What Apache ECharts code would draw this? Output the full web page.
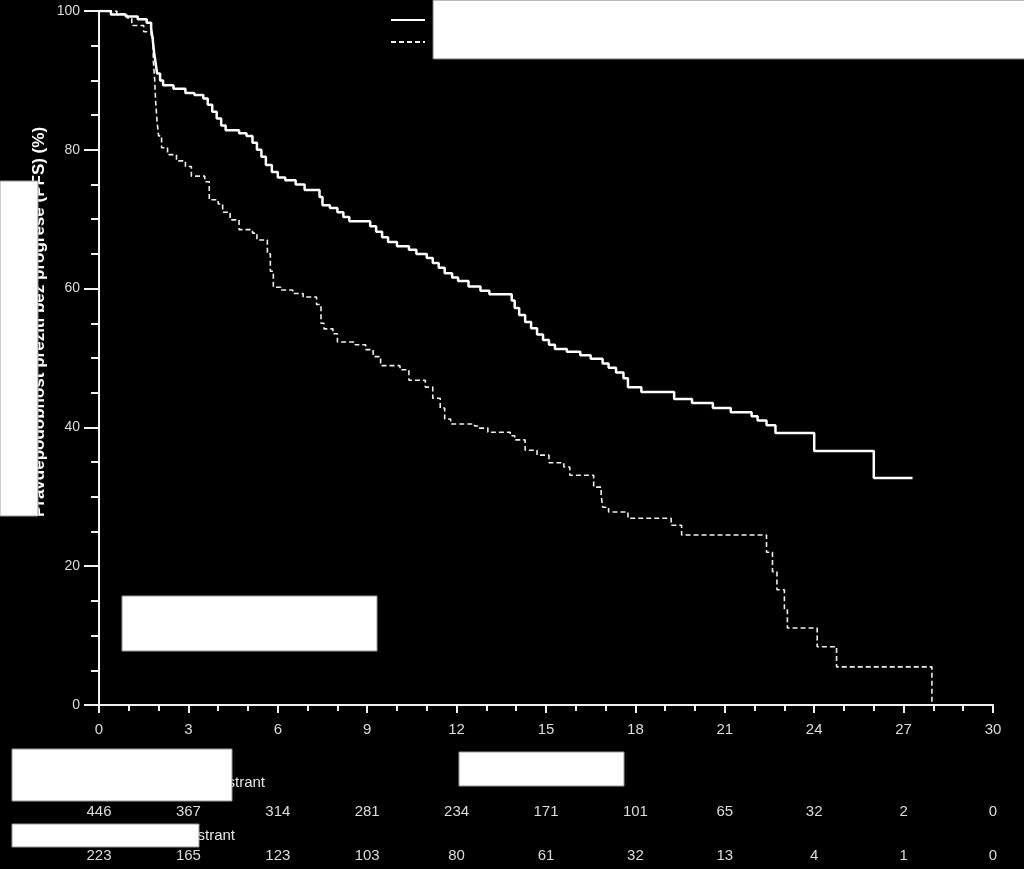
<!DOCTYPE html>
<html>
<head>
<meta charset="utf-8">
<script src="https://cdn.jsdelivr.net/npm/echarts@6/dist/echarts.min.js"></script>
<style>html,body{margin:0;padding:0;background:#000;}#c{width:1024px;height:869px;}</style>
</head>
<body>
<div id="c"></div>
<script>
// Series names (legend text is redacted in the reference)
const seriesNames = ['Abemaciklib + fulvestrant', 'Placebo + fulvestrant'];

// Arm A (solid): time in months, PFS %
const timesA = [0,0.4,0.9,1.3,1.6,1.75,1.8,1.85,1.9,1.95,2.05,2.15,2.5,2.9,3.2,3.5,3.65,3.8,3.95,4.1,4.25,4.7,4.95,5.15,5.3,5.45,5.6,5.8,6.0,6.25,6.6,6.9,7.4,7.5,7.75,8.0,8.2,8.4,9.1,9.3,9.5,9.7,10.0,10.4,10.65,11.0,11.2,11.4,11.6,11.85,12.05,12.4,12.8,13.1,13.85,13.95,14.1,14.3,14.5,14.7,14.9,15.1,15.3,15.7,16.15,16.5,16.9,17.1,17.35,17.6,17.75,18.2,19.3,19.9,20.6,21.2,21.9,22.1,22.4,22.7,24.0,26.0,27.3];
const pfsA   = [100,99.5,99.2,98.8,98.3,97.5,96,94,92.5,91,90,89.3,88.8,88.2,87.9,87.4,86.5,85.5,84.5,83.5,82.8,82.4,82.0,81.0,80.0,79.0,77.8,76.8,76.0,75.6,75.0,74.2,73.2,72.0,71.6,71.0,70.3,69.7,69.0,68.2,67.4,66.7,66.1,65.6,65.0,64.4,63.7,63.0,62.2,61.6,61.1,60.3,59.7,59.2,58.3,57.2,56.2,55.2,54.3,53.4,52.6,51.9,51.3,50.9,50.4,49.9,49.2,48.6,47.9,47.1,45.8,45.1,44.1,43.5,42.8,42.2,41.6,41.0,40.3,39.2,36.6,32.7,32.7];

// Arm B (dashed)
const timesB = [0,0.6,0.95,1.1,1.5,1.75,1.82,1.87,1.9,1.95,2.0,2.1,2.3,2.6,2.9,3.1,3.55,3.7,4.0,4.15,4.4,4.7,5.15,5.3,5.65,5.75,5.85,6.1,6.5,6.85,7.3,7.45,7.55,7.85,8.0,8.6,8.95,9.2,9.45,10.1,10.4,10.95,11.2,11.45,11.6,11.8,12.6,12.75,13.05,13.8,13.95,14.3,14.7,15.1,15.6,15.8,16.6,16.85,16.9,17.1,17.75,19.2,19.55,22.4,22.6,22.75,23.0,23.1,24.1,24.75,27.95];
const pfsB   = [100,99.6,99.0,97.9,97.0,96.3,93,90,87,84,82,80.3,79.3,78.4,77.6,76.2,75.4,72.8,72.2,71.0,69.9,68.5,68.0,67.0,65.0,62.5,60.2,59.8,59.3,58.8,57.7,55.0,54.2,53.5,52.3,51.9,51.2,50.2,48.9,48.3,46.8,45.8,44.2,42.8,41.2,40.5,40.2,39.9,39.3,38.8,38.2,36.7,36.0,34.9,34.3,33.1,31.4,30.3,28.5,27.8,26.9,25.9,24.5,22.0,19.2,16.6,13.7,11.1,8.4,5.5,0];

// Numbers at risk at months 0,3,...,30
const riskA = [446,367,314,281,234,171,101,65,32,2,0];
const riskB = [223,165,123,103,80,61,32,13,4,1,0];

const yTitle = 'Pravděpodobnost přežití bez progrese (PFS) (%)';
const xTitle = 'Čas (měsíce)';

const FONT = '"Liberation Sans", Arial, sans-serif';
const LBL = '#dcdcdc';

const chart = echarts.init(document.getElementById('c'), null, {renderer: 'canvas'});

function riskAxis(arr, offset) {
  return {
    type: 'value', min: 0, max: 30, interval: 3, position: 'bottom', offset: offset,
    axisLine: {show: false}, axisTick: {show: false}, splitLine: {show: false},
    axisLabel: {color: LBL, fontSize: 15, fontFamily: FONT, margin: 0,
      formatter: v => { const i = Math.round(v / 3); return arr[i] !== undefined ? String(arr[i]) : ''; }}
  };
}

const option = {
  backgroundColor: '#000',
  animation: false,
  grid: {left: 99, right: 31, top: 11, bottom: 164, containLabel: false},
  legend: {
    orient: 'vertical', left: 385, top: 8, itemWidth: 34, itemHeight: 14, itemGap: 8,
    data: seriesNames,
    itemStyle: {opacity: 0},
    textStyle: {color: '#000', fontSize: 14, padding: [0,0,0,20]}
  },
  xAxis: [{
    type: 'value', min: 0, max: 30, interval: 3,
    axisLine: {show: true, lineStyle: {color: '#f2f2f2', width: 2}},
    axisTick: {show: true, length: 8, lineStyle: {color: '#f2f2f2', width: 2}},
    minorTick: {show: true, splitNumber: 3, length: 6, lineStyle: {color: '#f2f2f2', width: 2}},
    splitLine: {show: false}, minorSplitLine: {show: false},
    axisLabel: {color: LBL, fontSize: 15, fontFamily: FONT, margin: 17},
    name: xTitle, nameLocation: 'middle', nameGap: 49,
    nameTextStyle: {color: '#fff', fontSize: 17, fontWeight: 'bold', fontFamily: FONT}
  }, riskAxis(riskA, 99), riskAxis(riskB, 143)],
  yAxis: {
    type: 'value', min: 0, max: 100, interval: 20,
    axisLine: {show: true, lineStyle: {color: '#f2f2f2', width: 2}},
    axisTick: {show: true, length: 15, lineStyle: {color: '#f2f2f2', width: 2}},
    minorTick: {show: true, splitNumber: 4, length: 8, lineStyle: {color: '#f2f2f2', width: 2}},
    splitLine: {show: false}, minorSplitLine: {show: false},
    axisLabel: {color: LBL, fontSize: 14, fontFamily: FONT, margin: 19}
  },
  series: [{
    name: seriesNames[0], type: 'line', step: 'end', showSymbol: false, symbol: 'none',
    data: timesA.map((t, i) => [t, pfsA[i]]),
    lineStyle: {color: '#ffffff', width: 2.5}, itemStyle: {color: '#ffffff'}, z: 3
  }, {
    name: seriesNames[1], type: 'line', step: 'end', showSymbol: false, symbol: 'none',
    data: timesB.map((t, i) => [t, pfsB[i]]),
    lineStyle: {color: '#f0f0f0', width: 1.6, type: [5, 3]}, itemStyle: {color: '#f0f0f0'}, z: 2
  }],
  graphic: [
    {type: 'text', z: 50, x: 39, y: 322, rotation: Math.PI / 2,
      style: {text: yTitle, fill: '#fff', font: 'bold 17px ' + FONT, textAlign: 'center', textVerticalAlign: 'middle'}},
    {type: 'text', z: 50, x: 265, y: 783,
      style: {text: seriesNames[0], fill: '#e6e6e6', font: '15px ' + FONT, textAlign: 'right', textVerticalAlign: 'middle'}},
    {type: 'text', z: 50, x: 235, y: 836,
      style: {text: seriesNames[1], fill: '#e6e6e6', font: '15px ' + FONT, textAlign: 'right', textVerticalAlign: 'middle'}},
    // redaction boxes
    {type: 'rect', z: 100, shape: {x: 433, y: 0, width: 600, height: 59}, style: {fill: '#fff', stroke: '#777', lineWidth: 1}},
    {type: 'rect', z: 100, shape: {x: 0, y: 181, width: 38, height: 335}, style: {fill: '#fff', stroke: '#999', lineWidth: 1}},
    {type: 'rect', z: 100, shape: {x: 122, y: 596, width: 255, height: 55}, style: {fill: '#fff', stroke: '#999', lineWidth: 1}},
    {type: 'rect', z: 100, shape: {x: 12, y: 749, width: 220, height: 52}, style: {fill: '#fff', stroke: '#999', lineWidth: 1}},
    {type: 'rect', z: 100, shape: {x: 12, y: 824, width: 187, height: 23}, style: {fill: '#fff', stroke: '#999', lineWidth: 1}},
    {type: 'rect', z: 100, shape: {x: 459, y: 752, width: 165, height: 34}, style: {fill: '#fff', stroke: '#999', lineWidth: 1}}
  ]
};
chart.setOption(option);
</script>
</body>
</html>
